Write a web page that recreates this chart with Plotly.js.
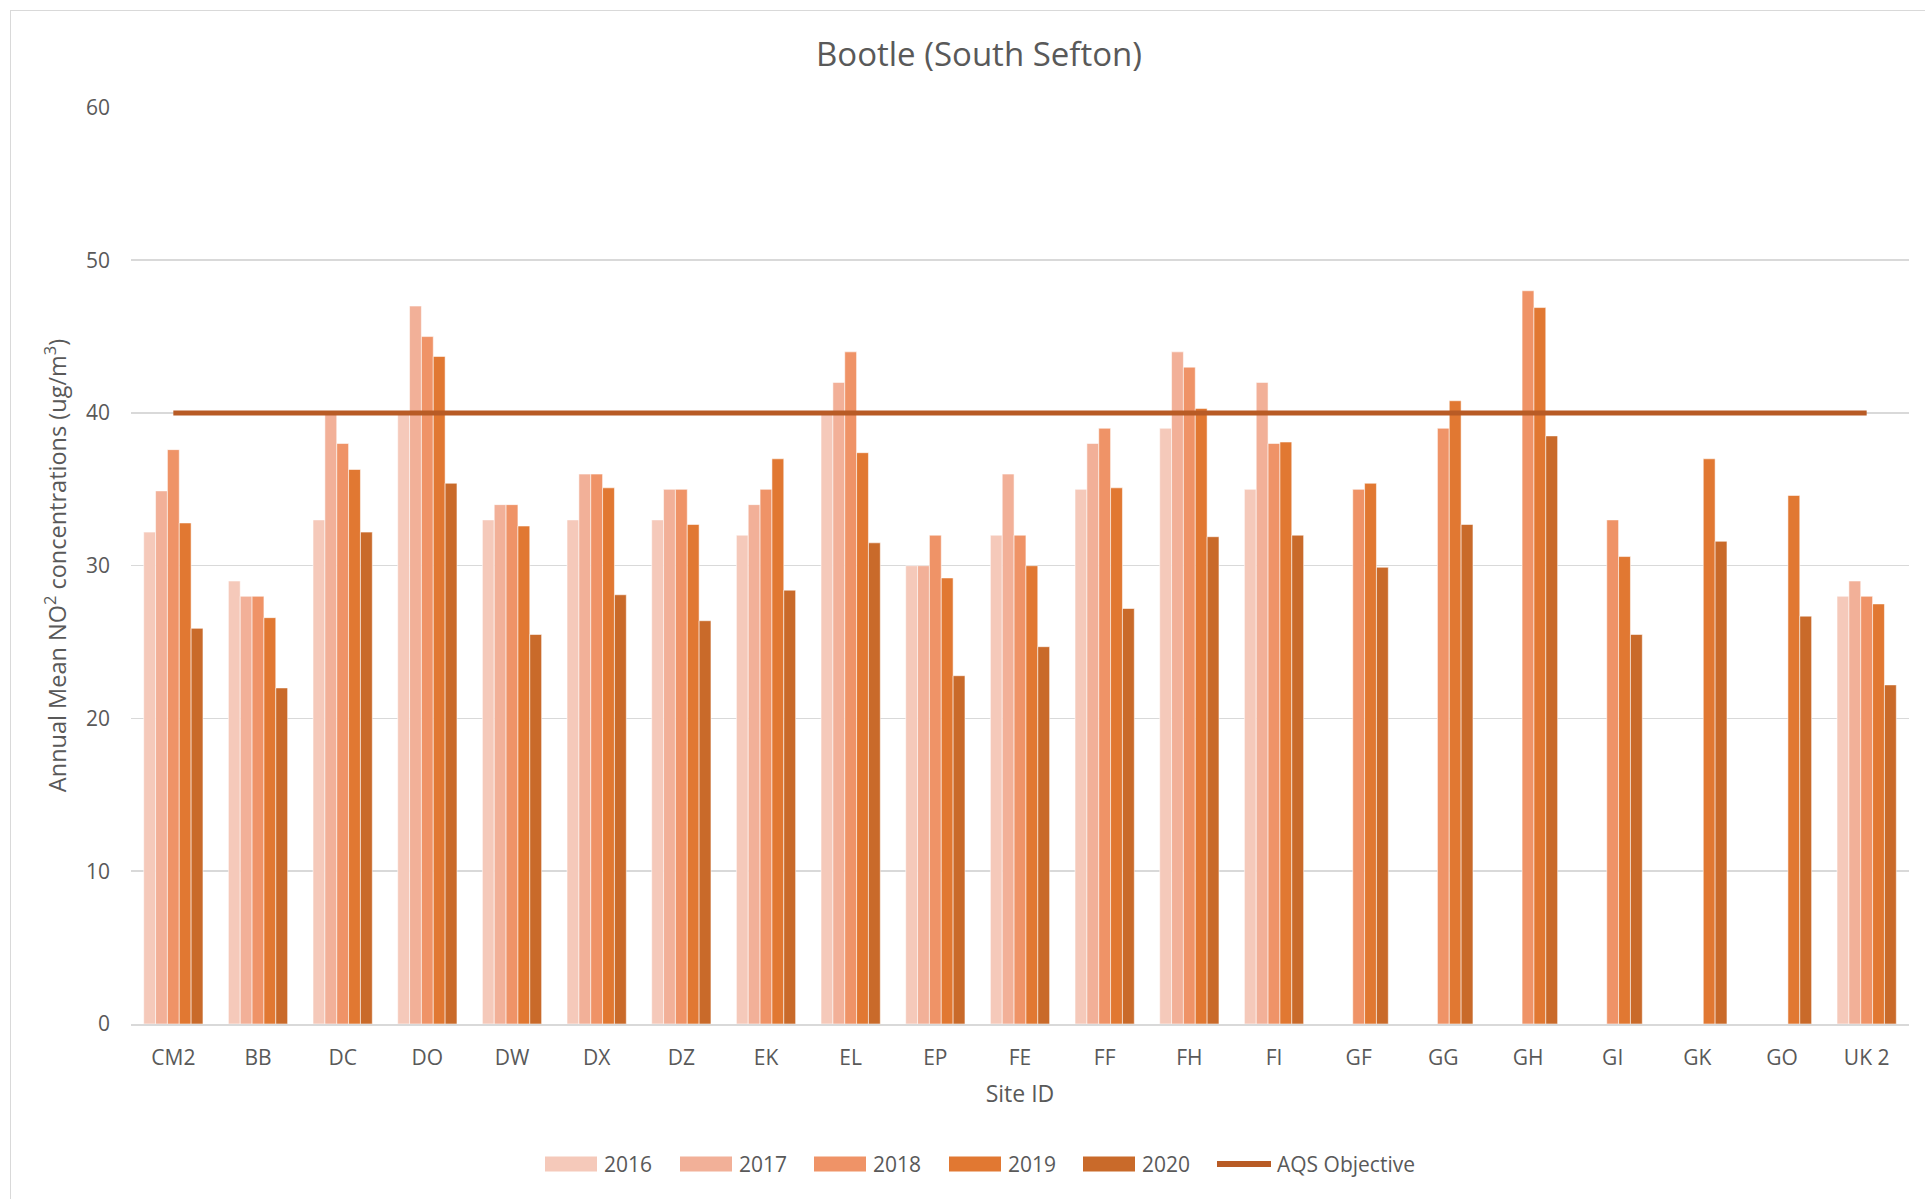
<!DOCTYPE html>
<html>
<head>
<meta charset="utf-8">
<script src="https://cdn.plot.ly/plotly-3.0.1.min.js"></script>
<style>
  html, body { margin: 0; padding: 0; background: #ffffff; overflow: hidden; }
  #chart { width: 1925px; height: 1199px; }
  #frame { position: absolute; left: 10px; top: 10px; width: 3000px; height: 3000px;
           border-left: 1.5px solid #d9d9d9; border-top: 1.5px solid #d9d9d9; pointer-events: none; }
</style>
</head>
<body>
<div id="chart"></div>
<div id="frame"></div>
<script>
// ---- data ----
const sites = ["CM2","BB","DC","DO","DW","DX","DZ","EK","EL","EP","FE","FF","FH","FI","GF","GG","GH","GI","GK","GO","UK 2"];

const y2016 = [32.2, 29, 33, 40, 33, 33, 33, 32, 40, 30, 32, 35, 39, 35, null, null, null, null, null, null, 28];
const y2017 = [34.9, 28, 40, 47, 34, 36, 35, 34, 42, 30, 36, 38, 44, 42, null, null, null, null, null, null, 29];
const y2018 = [37.6, 28, 38, 45, 34, 36, 35, 35, 44, 32, 32, 39, 43, 38, 35, 39, 48, 33, null, null, 28];
const y2019 = [32.8, 26.6, 36.3, 43.7, 32.6, 35.1, 32.7, 37, 37.4, 29.2, 30, 35.1, 40.3, 38.1, 35.4, 40.8, 46.9, 30.6, 37.0, 34.6, 27.5];
const y2020 = [25.9, 22.0, 32.2, 35.4, 25.5, 28.1, 26.4, 28.4, 31.5, 22.8, 24.7, 27.2, 31.9, 32.0, 29.9, 32.7, 38.5, 25.5, 31.6, 26.7, 22.2];
const aqsObjective = [40,40,40,40,40,40,40,40,40,40,40,40,40,40,40,40,40,40,40,40,40];

const yearNames = ["2016","2017","2018","2019","2020"];
const yearValues = [y2016, y2017, y2018, y2019, y2020];
const yearColors = ["#F5C9BA", "#F2B098", "#EF9367", "#E17832", "#C96A2A"];
const aqsName = "AQS Objective";
const aqsColor = "#B85B25";

const titleText = "Bootle (South Sefton)";
const xTitle = "Site ID";
const yTitle = "Annual Mean NO<sup>2</sup> concentrations (ug/m<sup>3</sup>)";

const FONT = "'Open Sans', 'Noto Sans', sans-serif";
const TXT = "#595959";

// plot-area geometry (pixels) used to place the hand-drawn legend
const W = 1925, H = 1199;
const M = { l: 131, r: 16, t: 107, b: 175 };
const PW = W - M.l - M.r, PH = H - M.t - M.b;
const px2x = p => (p - M.l) / PW;
const px2y = p => (H - M.b - p) / PH;

const traces = yearNames.map((name, i) => ({
  type: "bar",
  name: name,
  x: sites,
  y: yearValues[i],
  marker: { color: yearColors[i], line: { color: "rgba(255,255,255,0.55)", width: 1 } },
  hoverinfo: "x+y+name"
}));

traces.push({
  type: "scatter",
  mode: "lines",
  name: aqsName,
  x: sites,
  y: aqsObjective,
  line: { color: aqsColor, width: 5 }
});

// ---- legend (drawn like the reference: wide swatches) ----
const legendY = 1164;           // centre line of the legend row
const swatchLeft = [545, 680, 814, 949, 1083];
const swatchW = 52, swatchH = 15;
const shapes = [];
const annotations = [];
yearNames.forEach((name, i) => {
  shapes.push({
    type: "rect", xref: "paper", yref: "paper",
    x0: px2x(swatchLeft[i]), x1: px2x(swatchLeft[i] + swatchW),
    y0: px2y(legendY + swatchH / 2), y1: px2y(legendY - swatchH / 2),
    fillcolor: yearColors[i], line: { width: 0 }
  });
  annotations.push({
    xref: "paper", yref: "paper",
    x: px2x(swatchLeft[i] + swatchW + 5), y: px2y(legendY),
    xanchor: "left", yanchor: "middle", showarrow: false,
    text: name, font: { family: FONT, size: 21, color: TXT }
  });
});
shapes.push({
  type: "line", xref: "paper", yref: "paper",
  x0: px2x(1217), x1: px2x(1271), y0: px2y(legendY), y1: px2y(legendY),
  line: { color: aqsColor, width: 6 }
});
annotations.push({
  xref: "paper", yref: "paper",
  x: px2x(1275), y: px2y(legendY),
  xanchor: "left", yanchor: "middle", showarrow: false,
  text: aqsName, font: { family: FONT, size: 21, color: TXT }
});

const layout = {
  width: W,
  height: H,
  paper_bgcolor: "#ffffff",
  plot_bgcolor: "#ffffff",
  font: { family: FONT, color: TXT, size: 21 },
  margin: { l: M.l, r: M.r, t: M.t, b: M.b, autoexpand: false },
  title: {
    text: titleText,
    font: { family: FONT, size: 33, color: TXT },
    xref: "container", x: 979 / W, xanchor: "center",
    yref: "container", y: 1 - 54 / H, yanchor: "middle"
  },
  barmode: "group",
  bargap: 0.30,
  bargroupgap: 0,
  xaxis: {
    type: "category",
    showgrid: false,
    showline: true,
    linecolor: "#d9d9d9",
    linewidth: 1.5,
    ticks: "",
    tickfont: { family: FONT, size: 21, color: TXT },
    ticklabelstandoff: 14,
    automargin: false,
    title: { text: xTitle, font: { family: FONT, size: 23, color: TXT }, standoff: 16 }
  },
  yaxis: {
    range: [0, 60.03],
    dtick: 10,
    tick0: 0,
    showgrid: true,
    gridcolor: "#d9d9d9",
    gridwidth: 1.5,
    zeroline: false,
    showline: false,
    ticks: "",
    tickfont: { family: FONT, size: 21, color: TXT },
    ticklabelstandoff: 20,
    automargin: false,
    title: { text: yTitle, font: { family: FONT, size: 23.5, color: TXT }, standoff: 12 }
  },
  showlegend: false,
  shapes: shapes,
  annotations: annotations
};

Plotly.newPlot("chart", traces, layout, { displayModeBar: false, staticPlot: true });
</script>
</body>
</html>
